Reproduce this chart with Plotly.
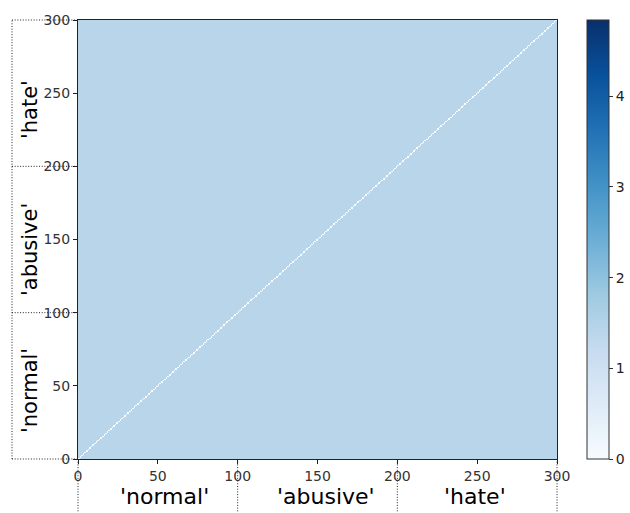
import plotly.graph_objects as go

# ---- data ----
groups = ["'normal'", "'abusive'", "'hate'"]
group_bounds = [0, 100, 200, 300]
# mean pairwise distance per block (rows = y group, cols = x group)
block_means = [
    [1.42, 1.42, 1.42],
    [1.42, 1.42, 1.42],
    [1.42, 1.42, 1.42],
]
diagonal_value = 0.0
z_max = 4.84
axis_ticks = [0, 50, 100, 150, 200, 250, 300]
cbar_ticks = [0, 1, 2, 3, 4]

n = group_bounds[-1]

def group_of(i):
    for g in range(len(groups)):
        if group_bounds[g] <= i < group_bounds[g + 1]:
            return g
    return len(groups) - 1

z = []
for r in range(n):
    row = []
    gr = group_of(r)
    for c in range(n):
        row.append(diagonal_value if r == c else block_means[gr][group_of(c)])
    z.append(row)

blues = ["#f7fbff", "#deebf7", "#c6dbef", "#9ecae1", "#6baed6",
         "#4292c6", "#2171b5", "#08519c", "#08306b"]
colorscale = [[i / (len(blues) - 1), col] for i, col in enumerate(blues)]

W, H = 630, 513
L, R, T, B = 78, 73, 20, 54
pw = W - L - R
ph = H - T - B

def px_x(p):
    return (p - L) / pw

def px_y(p):
    return (H - B - p) / ph

fig = go.Figure(go.Heatmap(
    z=z, x0=0.5, dx=1, y0=0.5, dy=1,
    colorscale=colorscale, zmin=0, zmax=z_max,
    colorbar=dict(
        x=px_x(587), xanchor="left", y=0, yanchor="bottom",
        len=1, lenmode="fraction", thickness=22, thicknessmode="pixels",
        outlinewidth=1, outlinecolor="#333333",
        tickvals=cbar_ticks, ticks="outside", ticklen=4, tickcolor="#333333",
        tickfont=dict(family="DejaVu Sans", size=14, color="#222222"),
        xpad=0, ypad=0,
    ),
    hoverinfo="skip",
))

axis_common = dict(
    range=[0, n], tickvals=axis_ticks, ticks="outside", ticklen=4,
    tickcolor="#222222", showline=True, linecolor="#222222", linewidth=1,
    mirror=True, showgrid=False, zeroline=False,
    tickfont=dict(family="DejaVu Sans", size=14, color="#333333"),
)
fig.update_xaxes(**axis_common)
fig.update_yaxes(**axis_common)

dot = dict(color="#222222", width=1, dash="1px,1.7px")
left_x = px_x(12)
bottom_y = px_y(H + 2)

shapes = []
for b in group_bounds:
    shapes.append(dict(type="line", xref="paper", yref="paper",
                       x0=left_x, x1=0, y0=b / n, y1=b / n, line=dot, layer="below"))
    shapes.append(dict(type="line", xref="paper", yref="paper",
                       x0=b / n, x1=b / n, y0=0, y1=bottom_y, line=dot, layer="below"))
shapes.append(dict(type="line", xref="paper", yref="paper",
                   x0=left_x, x1=left_x, y0=0, y1=1, line=dot))

# label centres (px)
left_label_y = [391, 250, 110]
bottom_label_x = [164, 326, 475]

annotations = []
for g, name in enumerate(groups):
    annotations.append(dict(text=name, xref="paper", yref="paper",
                            x=px_x(30), y=px_y(left_label_y[g]), textangle=-90,
                            showarrow=False, xanchor="center", yanchor="middle",
                            font=dict(family="DejaVu Sans", size=21, color="#000000")))
    annotations.append(dict(text=name, xref="paper", yref="paper",
                            x=px_x(bottom_label_x[g]), y=px_y(496),
                            showarrow=False, xanchor="center", yanchor="middle",
                            font=dict(family="DejaVu Sans", size=22, color="#000000")))

fig.update_layout(
    width=W, height=H,
    margin=dict(l=L, r=R, t=T, b=B, autoexpand=False),
    paper_bgcolor="white", plot_bgcolor="white",
    shapes=shapes, annotations=annotations,
    showlegend=False,
)

fig.write_html("out.html")
